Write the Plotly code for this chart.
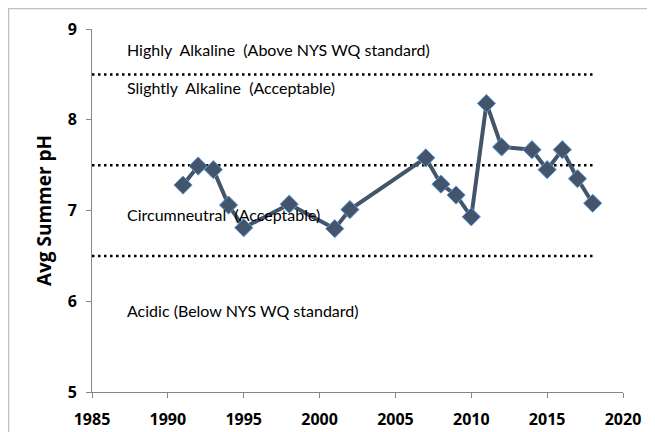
import plotly.graph_objects as go

# ---- data ----
years = [1991, 1992, 1993, 1994, 1995, 1998, 2001, 2002, 2007, 2008,
         2009, 2010, 2011, 2012, 2014, 2015, 2016, 2017, 2018]
ph_values = [7.28, 7.49, 7.45, 7.06, 6.81, 7.07, 6.80, 7.01, 7.58, 7.29,
             7.17, 6.93, 8.18, 7.70, 7.67, 7.45, 7.67, 7.35, 7.08]

threshold_levels = [6.5, 7.5, 8.5]
threshold_span = [1985, 2018]

zone_labels = ["Highly  Alkaline  (Above NYS WQ standard)",
               "Slightly  Alkaline  (Acceptable)",
               "Circumneutral  (Acceptable)",
               "Acidic (Below NYS WQ standard)"]
zone_label_y = [8.77, 8.36, 6.96, 5.90]

x_ticks = [1985, 1990, 1995, 2000, 2005, 2010, 2015, 2020]
y_ticks = [5, 6, 7, 8, 9]

FONT = "Lato"
BOLD_FONT = "Open Sans"
fig = go.Figure()

for lvl in threshold_levels:
    fig.add_trace(go.Scatter(
        x=threshold_span, y=[lvl, lvl], mode="lines",
        line=dict(color="black", width=2.5, dash="2.5px,3.5px"),
        hoverinfo="skip", showlegend=False))

fig.add_trace(go.Scatter(
    x=years, y=ph_values, mode="lines+markers",
    line=dict(color="#44546A", width=4),
    marker=dict(symbol="diamond", size=14, color="#44546A",
                line=dict(color="#5B9BD5", width=1)),
    showlegend=False))

for txt, yy in zip(zone_labels, zone_label_y):
    fig.add_annotation(x=1987.2, y=yy, xref="x", yref="y",
                       text=txt.replace("  ", "&nbsp; "),
                       showarrow=False, xanchor="left", yanchor="middle",
                       font=dict(family=FONT, size=16, color="black"))

# outer chart border (partially outside the visible window)
fig.add_shape(type="rect", xref="paper", yref="paper",
              x0=-0.1572, x1=1.3, y0=-0.3, y1=1.0565,
              line=dict(color="#BFBFBF", width=1.5), layer="below")

fig.update_layout(
    width=647, height=424,
    margin=dict(l=84, r=32, t=21, b=40, autoexpand=False),
    plot_bgcolor="white", paper_bgcolor="white",
    font=dict(family=FONT, color="black"),
)
fig.update_xaxes(range=[1985, 2020], tickvals=x_ticks, automargin=False,
                 ticktext=["<b>%d</b>" % v for v in x_ticks], showgrid=False,
                 zeroline=False, showline=True, linecolor="#868686", linewidth=1,
                 ticks="outside", ticklen=5, tickcolor="#868686",
                 ticklabelstandoff=8,
                 tickfont=dict(family=BOLD_FONT, size=16, color="black"))
fig.update_yaxes(range=[5, 9], tickvals=y_ticks, automargin=False,
                 ticktext=["<b>%d</b>" % v for v in y_ticks], showgrid=False,
                 zeroline=False, showline=True, linecolor="#868686", linewidth=1,
                 ticks="outside", ticklen=5, tickcolor="#868686",
                 ticklabelstandoff=6,
                 tickfont=dict(family=BOLD_FONT, size=16, color="black"),
                 title=dict(text="<b>Avg Summer pH</b>", standoff=10,
                            font=dict(family=BOLD_FONT, size=19, color="black")))

fig.write_html("out.html")
